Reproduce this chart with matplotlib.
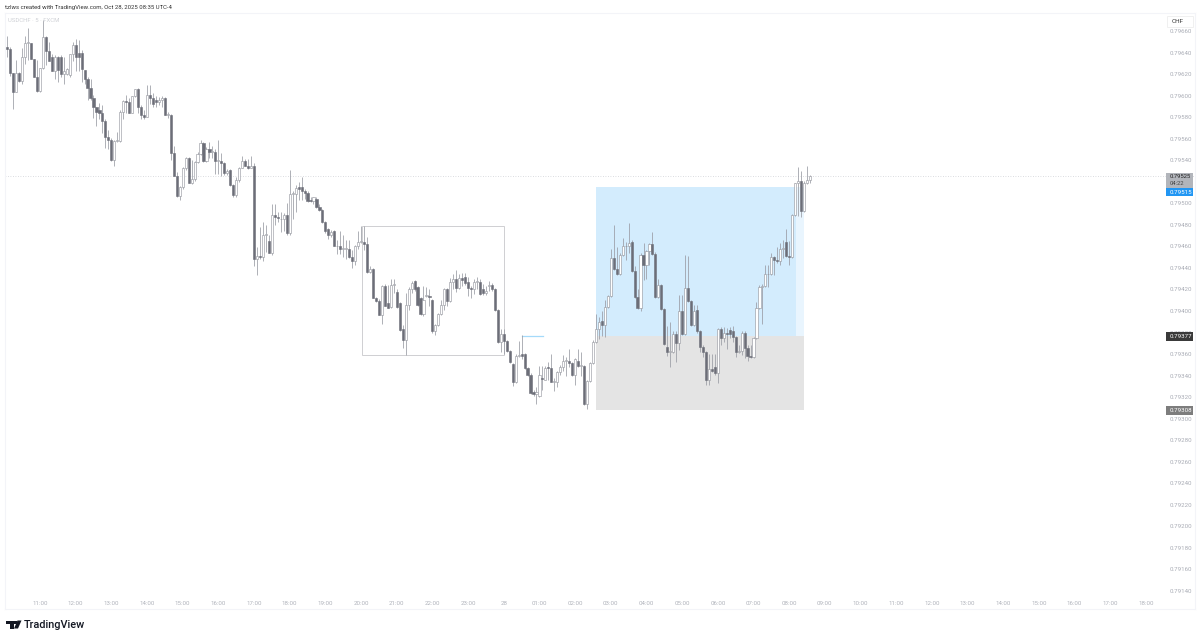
import matplotlib
matplotlib.use("Agg")
import matplotlib.pyplot as plt
from matplotlib.patches import Rectangle, Polygon

plt.rcParams['font.family'] = ['Roboto', 'DejaVu Sans']

# USDCHF 5 min candles, values are points above 0.79000 (price = 0.79 + v * 1e-5)
opens = [645,643,621,603,621,614,636,649,649,634,617,604,626,654,641,636,623,636,636,620,
         620,619,639,647,640,640,624,615,607,598,589,587,584,576,562,559,540,558,558,585,
         595,594,584,600,606,589,582,580,601,598,596,594,596,598,582,582,547,525,507,515,
         533,542,519,523,538,546,556,539,550,548,548,539,539,537,528,531,517,508,522,533,
         539,535,533,535,448,451,450,471,465,454,489,487,485,485,489,472,509,509,515,515,
         511,510,503,502,504,497,494,483,476,471,474,460,460,458,458,458,450,446,460,464,
         464,462,436,439,412,409,396,423,407,404,424,418,407,383,373,406,420,428,422,412,
         397,414,414,410,381,387,397,406,420,409,427,430,421,431,432,427,421,420,427,427,
         420,417,423,424,420,401,371,379,372,363,351,334,358,360,360,347,341,325,323,321,
         338,336,348,347,334,334,343,348,354,354,352,341,354,349,349,314,335,352,371,383,
         391,387,404,414,449,439,434,452,460,460,464,437,413,403,452,443,456,462,453,413,
         424,402,367,362,362,379,370,400,379,421,409,387,401,381,367,362,336,346,348,342,
         383,375,380,382,381,376,362,363,380,366,358,357,375,403,422,423,434,434,450,447,
         446,458,464,451,450,489,519,521,493,519,522]
closes = [643,621,603,621,614,636,649,649,634,617,604,626,654,641,632,623,636,624,620,623,
          625,639,647,636,636,625,615,607,598,589,585,584,576,562,559,540,558,558,585,595,
          594,584,600,606,589,582,580,601,598,592,594,596,598,582,582,547,525,507,515,533,
          542,519,523,538,546,556,539,550,548,548,539,539,537,528,530,517,508,522,533,539,
          535,533,535,448,451,450,471,471,454,489,487,486,485,489,472,509,509,514,513,511,
          510,502,502,506,497,494,483,474,471,473,460,460,458,458,458,450,446,460,464,464,
          462,436,439,412,409,396,423,405,403,424,424,404,382,373,406,420,426,420,406,397,
          410,414,413,381,387,397,406,420,409,427,430,421,431,429,426,421,420,427,427,416,
          417,419,423,420,401,371,379,372,363,353,334,358,358,358,347,341,324,323,325,341,
          337,347,347,334,334,343,348,354,354,352,341,355,349,349,314,335,352,371,383,390,
          387,404,414,449,439,434,452,460,460,463,437,413,403,452,443,456,462,453,413,424,
          402,369,362,362,379,370,400,379,421,409,387,400,381,367,362,336,346,344,342,383,
          375,380,379,379,376,362,363,380,366,358,357,375,403,422,423,434,434,450,447,446,
          458,458,451,450,489,519,521,493,519,522,525]
highs = [655,645,621,633,622,644,655,663,649,634,633,626,670,655,650,639,638,637,638,636,
         626,639,650,653,652,642,624,617,615,601,589,593,591,578,568,561,559,566,587,596,
         601,598,600,606,607,591,587,610,610,602,600,599,600,599,585,583,553,529,516,534,
         543,543,540,539,548,559,557,552,557,553,550,559,547,538,532,532,518,524,534,544,
         541,541,544,537,459,478,483,480,471,499,499,492,492,491,500,531,511,517,520,524,
         513,511,506,506,506,499,495,484,477,475,475,466,474,471,466,466,457,461,474,479,
         479,469,442,440,413,411,424,425,424,430,430,420,408,387,417,422,428,429,423,413,
         423,422,420,411,388,398,410,421,421,431,434,438,434,435,435,432,423,430,432,430,
         425,423,428,426,421,402,383,383,373,364,352,360,372,378,361,348,342,327,329,349,
         349,349,353,360,338,344,350,359,357,365,353,356,365,362,350,336,353,373,397,394,
         400,410,415,458,480,459,454,468,464,482,466,442,420,454,463,457,463,473,455,430,
         425,403,386,390,381,381,415,415,452,451,410,406,406,382,368,363,360,360,360,384,
         385,385,384,385,386,377,368,381,381,368,368,376,408,424,425,443,443,454,451,459,
         463,466,476,465,490,519,534,530,521,535,526]
lows = [636,618,588,603,613,611,629,633,634,617,603,603,625,628,632,623,615,613,617,611,
        619,617,632,623,623,613,611,596,596,579,572,578,565,551,550,539,535,557,557,578,
        584,584,584,599,584,578,578,580,592,589,589,591,589,582,579,540,525,506,503,513,
        531,519,518,521,537,545,538,538,542,542,527,527,525,526,526,516,506,506,520,533,
        535,532,533,442,433,448,446,455,454,452,480,483,473,474,471,471,485,492,503,503,
        504,501,501,499,496,493,482,472,467,469,460,453,453,450,448,449,440,443,458,463,
        457,435,435,412,408,396,388,405,403,403,417,403,381,366,359,401,417,419,405,396,
        395,413,405,380,378,386,396,401,405,408,420,418,420,423,424,414,412,416,420,415,
        415,415,419,419,400,370,362,360,362,352,330,333,357,355,346,340,323,321,314,320,
        327,336,336,334,326,329,341,344,340,348,340,331,348,340,313,309,334,351,370,374,
        377,376,403,413,438,433,433,451,447,454,436,412,402,400,429,430,443,452,412,412,
        401,368,358,348,361,353,364,378,378,408,386,386,380,362,357,331,331,343,341,333,
        368,371,365,375,371,357,361,359,356,354,356,356,374,402,388,422,422,433,433,445,
        443,449,450,443,449,488,488,487,492,518,519]

y_ticks = [79660 - 20 * i for i in range(27)]
hour_labels = ['11:00','12:00','13:00','14:00','15:00','16:00','17:00','18:00','19:00','20:00',
               '21:00','22:00','23:00','28','01:00','02:00','03:00','04:00','05:00','06:00',
               '07:00','08:00','09:00','10:00','11:00','12:00','13:00','14:00','15:00','16:00',
               '17:00','18:00']

W, H = 1200, 639
fig = plt.figure(figsize=(12, 6.39), dpi=100, facecolor='white')
ax = fig.add_axes([5 / W, 1 - 609 / H, 1190 / W, 596 / H])
ax.set_xlim(0.235, 400.5)
ax.set_ylim(0.791233, 0.796767)
for s in ax.spines.values():
    s.set_color('#f3f4f8')
    s.set_linewidth(0.8)


def P(v):
    return 0.79 + v * 1e-5


# position tool: target, entry, stop
ax.add_patch(Rectangle((199, P(377)), 67.3, P(515) - P(377), fc='#d3ecfd', ec='none', zorder=1))
ax.add_patch(Rectangle((266.3, P(377)), 2.7, P(515) - P(377), fc='#e9f5fe', ec='none', zorder=1))
ax.add_patch(Rectangle((199, P(308)), 70, P(377) - P(308), fc='#e4e4e4', ec='none', zorder=1))
# range box and small line
ax.add_patch(Rectangle((120.2, P(359)), 47.9, P(479) - P(359), fc='none', ec='#cfcfd2', lw=0.7, zorder=2))
ax.plot([174, 181.3], [P(377), P(377)], color='#a5dafa', lw=0.9, zorder=2)
# last price line
ax.axhline(P(525), color='#cfd1d6', lw=0.6, ls=(0, (1, 2)), zorder=2)

for i, (o, c, h, l) in enumerate(zip(opens, closes, highs, lows)):
    k = i + 1
    ax.plot([k, k], [P(l), P(h)], color='#999ba3', lw=0.55, zorder=3, solid_capstyle='butt')
    up = c >= o
    bottom = min(o, c)
    height = max(abs(c - o), 0.8)
    ax.add_patch(Rectangle((k - 0.36, P(bottom)), 0.72, height * 1e-5,
                           fc='white' if up else '#6c6e78',
                           ec='#8f9199' if up else '#6c6e78', lw=0.4, zorder=4))

ax.set_yticks([v / 1e5 for v in y_ticks])
ax.set_yticklabels([f'{v / 1e5:.5f}' for v in y_ticks])
ax.yaxis.tick_right()
ax.tick_params(axis='y', length=0, pad=-18.3, labelsize=4.4, labelcolor='#a9acb5')
ax.set_xticks([12 * (i + 1) for i in range(len(hour_labels))])
ax.set_xticklabels(hour_labels)
ax.tick_params(axis='x', length=0, pad=-5.6, labelsize=4.4, labelcolor='#b0b3bb')


def box(x0, y0, x1, y1, fc, ec='none', lw=0):
    fig.add_artist(Rectangle((x0 / W, 1 - y1 / H), (x1 - x0) / W, (y1 - y0) / H,
                             transform=fig.transFigure, fc=fc, ec=ec, lw=lw, zorder=5))


def label(x, y, s, color, size=4.4, **kw):
    fig.text(x / W, 1 - y / H, s, color=color, fontsize=size, va='center', zorder=6, **kw)


box(1167, 16, 1193, 27, 'white', '#eeeeee', 0.6)
label(1172, 21.5, 'CHF', '#333333', 4.6)
box(1166, 172.5, 1193, 188, '#b2b5bb')
label(1170, 176.3, '0.79525', '#222222', 4.2)
label(1170, 184, '04:22', '#444444', 4.2)
box(1166, 188, 1193, 196, '#2196f3')
label(1170, 192, '0.79515', 'white')
box(1166, 332, 1193, 340.5, '#3a3a3a')
label(1170, 336.3, '0.79377', 'white')
box(1166, 406, 1193, 414.5, '#7d7d7d')
label(1170, 410.3, '0.79308', 'white')

label(5, 7, 'tzlws created with TradingView.com, Oct 28, 2025 08:35 UTC-4', '#333333', 4.3)
label(8.5, 20, 'USDCHF · 5 · FXCM', '#cfd1d6', 4.3)

# TradingView mark
logo = [[(6, 620.5), (13.5, 620.5), (13.5, 628.5), (10, 628.5), (10, 624), (6, 624)],
        [(17.5, 620.5), (21.5, 620.5), (18, 628.5), (14, 628.5)],
        [(14.3, 620.5), (16.7, 620.5), (16.7, 623.5), (14.3, 623.5)]]
for pts in logo:
    fig.add_artist(Polygon([(x / W, 1 - y / H) for x, y in pts], closed=True,
                           transform=fig.transFigure, fc='#131722', ec='none', zorder=5))
label(24, 624.5, 'TradingView', '#131722', 7.8, fontweight='medium')

fig.savefig('out.png', dpi=100, facecolor='white')
